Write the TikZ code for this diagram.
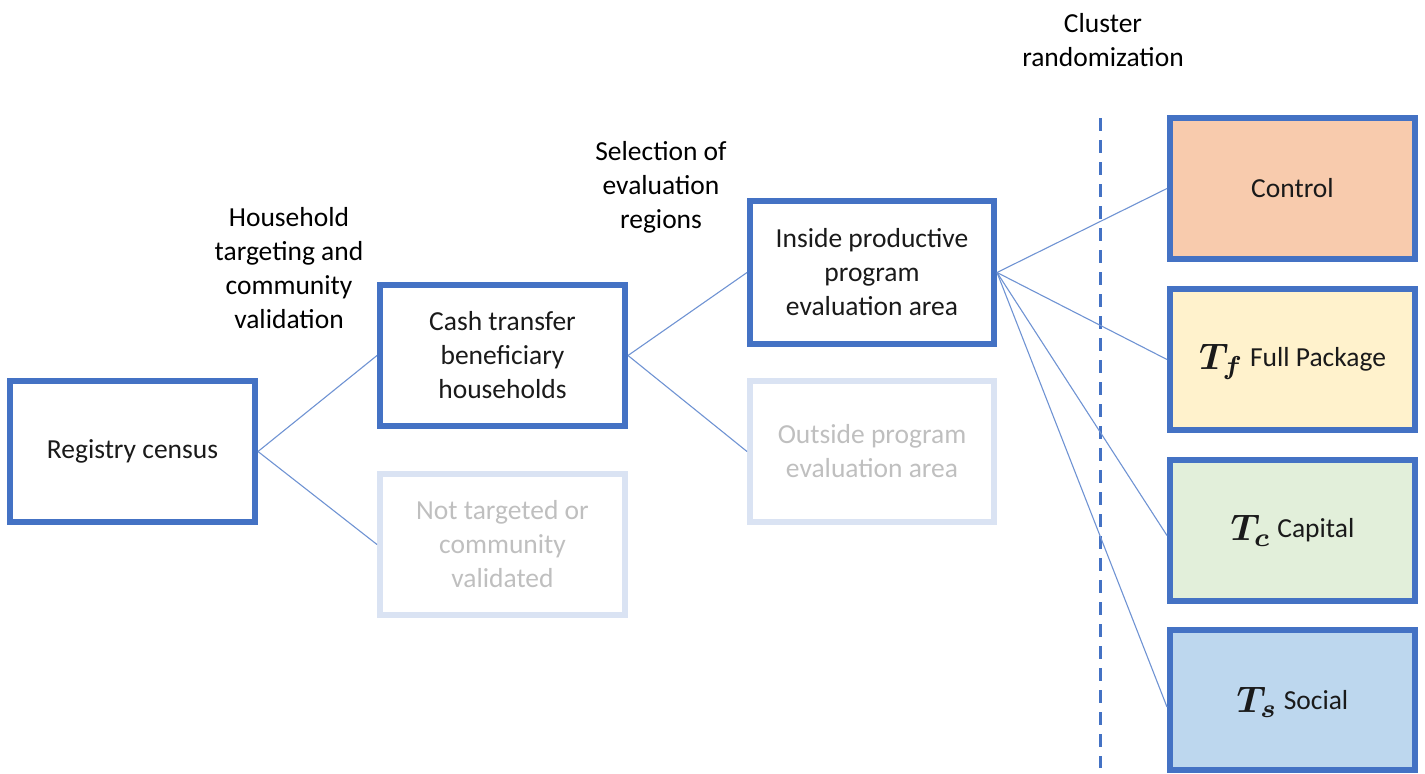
\documentclass[tikz,border=0pt]{standalone}
\usepackage{fontspec}
\setmainfont{Carlito}
\usepackage{amsmath}
\usepackage{bm}
\definecolor{boxblue}{HTML}{4472C4}
\definecolor{fadeblue}{HTML}{DAE3F3}
\definecolor{fadegray}{HTML}{BFBFBF}
\definecolor{linkblue}{HTML}{6F93D3}
\definecolor{ctrlfill}{HTML}{F8CBAD}
\definecolor{fullfill}{HTML}{FFF2CC}
\definecolor{capfill}{HTML}{E2EFDA}
\definecolor{socfill}{HTML}{BDD7EE}
\definecolor{txt}{HTML}{1A1A1A}
\tikzset{
  basebox/.style={line width=6pt, minimum width=245pt, minimum height=141pt,
    align=center, inner sep=0pt, font=\fontsize{27.5}{34}\selectfont},
  mainbox/.style={basebox, draw=boxblue, text=txt},
  fadebox/.style={basebox, draw=fadeblue, text=fadegray},
  steplabel/.style={align=center, text=black, font=\fontsize{27.5}{34}\selectfont},
  link/.style={draw=linkblue, line width=1.1pt},
  divider/.style={draw=boxblue, line width=3pt, dash pattern=on 13pt off 9pt}
}
\newcommand{\tsym}[1]{\smash{\raisebox{-0.1em}{{\fontsize{10}{12}\selectfont\scalebox{3.7}{$\bm{T_{#1}}$}}}}}
\begin{document}
\begin{tikzpicture}[x=1pt,y=-1pt]
\useasboundingbox (0,0) rectangle (1425,774);
% boxes
\node[mainbox] (reg) at (132.5,451.5) {Registry census};
\node[mainbox] (cash) at (502.5,355.5) {Cash transfer\\beneficiary\\households};
\node[fadebox] (nott) at (502.5,544.5) {Not targeted or\\community\\validated};
\node[mainbox, minimum width=244pt, minimum height=143pt] (ins) at (872,272.5) {Inside productive\\program\\evaluation area};
\node[fadebox, minimum width=244pt] (outs) at (872,451.5) {Outside program\\evaluation area};
\node[mainbox, fill=ctrlfill] (ctrl) at (1292.5,188.5) {Control};
\node[mainbox, fill=fullfill] (tf) at (1292.5,359.5) {\tsym{f} Full Package};
\node[mainbox, fill=capfill] (tc) at (1292.5,530.5) {\tsym{c} Capital};
\node[mainbox, fill=socfill, minimum height=140pt] (ts) at (1292.5,700) {\tsym{s} Social};
% stage labels
\node[steplabel] (lab1) at (289,268) {Household\\targeting and\\community\\validation};
\node[steplabel] (lab2) at (661,187) {Selection of\\evaluation\\regions};
\node[steplabel] (lab3) at (1103,40) {Cluster\\randomization};
% divider
\coordinate (dtop) at (1100,118);
\coordinate (dbot) at (1100,768);
\draw[divider] (dtop) -- (dbot);
% connectors
\draw[link] (reg.east) -- (cash.west);
\draw[link] (reg.east) -- (nott.west);
\draw[link] (cash.east) -- (ins.west);
\draw[link] (cash.east) -- (outs.west);
\draw[link] (ins.east) -- (ctrl.west);
\draw[link] (ins.east) -- (tf.west);
\draw[link] (ins.east) -- ([yshift=-5pt]tc.west);
\draw[link] (ins.east) -- ([yshift=-7pt]ts.west);
\end{tikzpicture}
\end{document}
